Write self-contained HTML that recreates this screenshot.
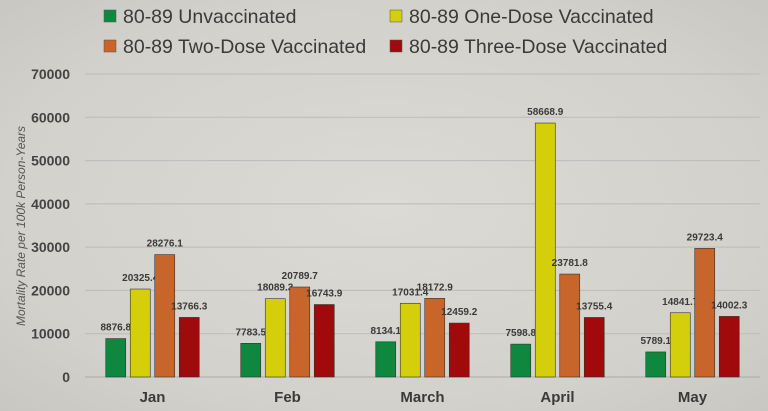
<!DOCTYPE html>
<html><head><meta charset="utf-8"><style>
body{margin:0;width:768px;height:411px;overflow:hidden;background:radial-gradient(ellipse at center,#dcdad4 0%,#d3d1cb 70%,#c9c7c1 100%);font-family:"Liberation Sans","DejaVu Sans",sans-serif}
svg{display:block}
</style></head><body>
<svg width="768" height="411">
<g id="legend"></g>
<g id="grid"></g>
<g id="bars"></g>
<text transform="translate(25,226) rotate(-90)" text-anchor="middle" font-size="12" font-style="italic" fill="#555">Mortality Rate per 100k Person-Years</text>
</svg>
<script>
const categories=["Jan","Feb","March","April","May"];
const seriesNames=["80-89 Unvaccinated","80-89 One-Dose Vaccinated","80-89 Two-Dose Vaccinated","80-89 Three-Dose Vaccinated"];
const unvaccinated=[8876.8,7783.5,8134.1,7598.8,5789.1];
const oneDose=[20325.4,18089.3,17031.4,58668.9,14841.7];
const twoDose=[28276.1,20789.7,18172.9,23781.8,29723.4];
const threeDose=[13766.3,16743.9,12459.2,13755.4,14002.3];
const yTicks=[0,10000,20000,30000,40000,50000,60000,70000];
const colors=["#10873f","#d4cf0a","#c8652a","#a00a0a"];
const series=[unvaccinated,oneDose,twoDose,threeDose];
const NS="http://www.w3.org/2000/svg";
const y0=377,yTop=74,yMax=70000,x0=85,x1=760;
const y=v=>y0-(v/yMax)*(y0-yTop);
const groupW=(x1-x0)/categories.length;
const xc=i=>x0+groupW*(i+0.5);
function mk(tag,attrs,parent,txt){const e=document.createElementNS(NS,tag);for(const k in attrs)e.setAttribute(k,attrs[k]);if(txt!==undefined)e.textContent=txt;parent.appendChild(e);return e;}
const grid=document.getElementById('grid'),bars=document.getElementById('bars'),legend=document.getElementById('legend');
yTicks.forEach(t=>{
  const l=mk('line',{x1:x0,x2:x1,y1:y(t),y2:y(t),stroke:t===0?'#aaa':'#bbb','stroke-width':1},grid);
  
  
  const tx=mk('text',{x:70,y:y(t)+5,'text-anchor':'end','font-size':14,'font-weight':'bold',fill:'#444'},grid,String(t));
  
  
});
const bw=20,step=24.5;
categories.forEach((c,i)=>{
  const cx=xc(i);
  series.forEach((s,j)=>{
    const bx=cx-2*step+j*step+(step-bw)/2;
    const r=mk('rect',{x:bx,y:y(s[i]),width:bw,height:y0-y(s[i]),fill:colors[j],stroke:'#333','stroke-width':0.6},bars);
    
    
    const lb=mk('text',{x:bx+bw/2,y:y(s[i])-8,'text-anchor':'middle','font-size':10,'font-weight':'bold',fill:'#3a3a3a'},bars,s[i].toFixed(1));
    
    
  });
  const cl=mk('text',{x:cx,y:402,'text-anchor':'middle','font-size':15,'font-weight':'bold',fill:'#3a3a3a'},bars,c);
  
  
});
const lp=[[104,16],[390,16],[104,46],[390,46]];
seriesNames.forEach((n,j)=>{
  const g=mk('g',{},legend);
  
  
  mk('rect',{x:lp[j][0],y:lp[j][1]-6,width:12,height:12,fill:colors[j],stroke:'#555','stroke-width':0.5},g);
  mk('text',{x:lp[j][0]+19,y:lp[j][1]+7,'font-size':19.5,fill:'#3a3a3a'},g,n);
});
</script>
</body></html>
